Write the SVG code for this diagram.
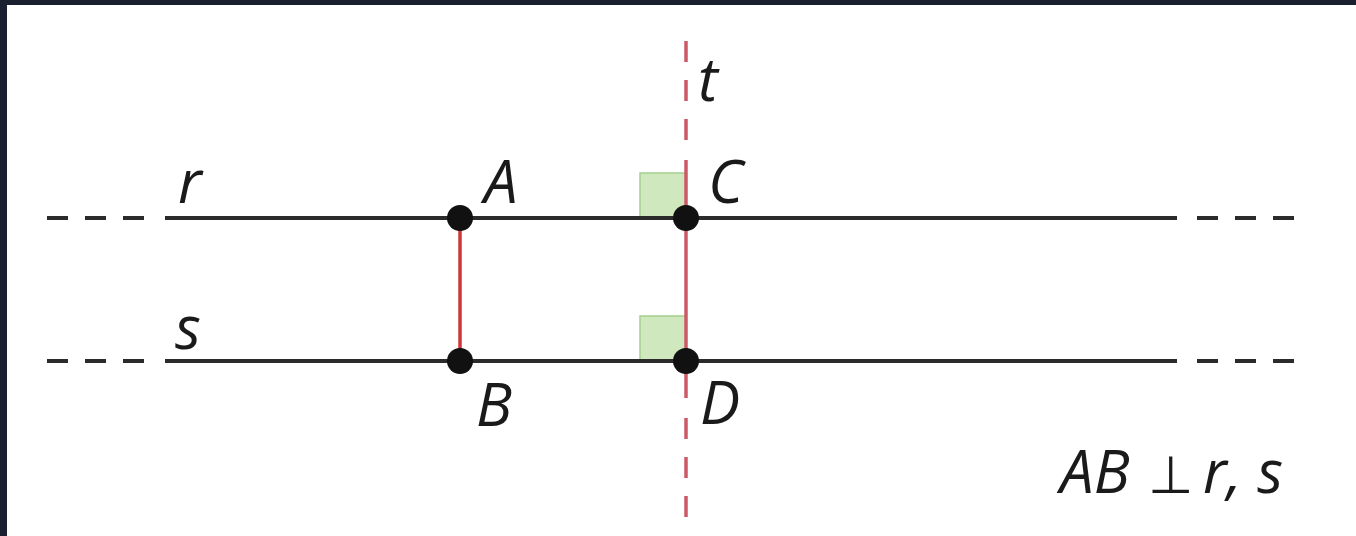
<svg xmlns="http://www.w3.org/2000/svg" width="1356" height="536" viewBox="0 0 1356 536">
<style>
.ln{stroke:#2b2b2b;stroke-width:4;fill:none}
.dl{stroke:#2b2b2b;stroke-width:4;fill:none;stroke-dasharray:21 17}
.t{stroke:#cc5a66;stroke-width:3.5;fill:none}
.td{stroke:#cc5a66;stroke-width:3.5;fill:none;stroke-dasharray:21 18}
.ab{stroke:#d0343c;stroke-width:3.5}
.sq{fill:#cfe8bd;stroke:#a5d08e;stroke-width:1.5}
.pt{fill:#111}
.lb{font-family:"Open Sans","Noto Sans",sans-serif;font-style:italic;font-size:60px;fill:#1a1a1a}
</style>
<rect x="0" y="0" width="1356" height="536" fill="#ffffff"/>
<rect x="0" y="0" width="1356" height="5" fill="#1b2030"/>
<rect x="0" y="0" width="7" height="536" fill="#1b2030"/>
<g id="angles">
<rect class="sq" x="640" y="173" width="46" height="45"/>
<rect class="sq" x="640" y="316" width="46" height="45"/>
</g>
<g id="connectors">
<line class="dl" x1="47" y1="218" x2="150" y2="218"/>
<line class="ln" x1="165" y1="218" x2="1177" y2="218"/>
<line class="dl" x1="1197" y1="218" x2="1300" y2="218"/>
<line class="dl" x1="47" y1="361" x2="150" y2="361"/>
<line class="ln" x1="165" y1="361" x2="1177" y2="361"/>
<line class="dl" x1="1197" y1="361" x2="1300" y2="361"/>
<line class="td" x1="686" y1="41" x2="686" y2="142"/>
<line class="t" x1="686" y1="160" x2="686" y2="398"/>
<line class="td" x1="686" y1="418" x2="686" y2="518"/>
<line class="ab" x1="460" y1="218" x2="460" y2="361"/>
</g>
<g id="A"><circle class="pt" cx="460" cy="218" r="13"/><text class="lb" x="484" y="203">A</text></g>
<g id="B"><circle class="pt" cx="460" cy="361" r="13"/><text class="lb" x="476" y="426">B</text></g>
<g id="C"><circle class="pt" cx="686" cy="218" r="13"/><text class="lb" x="708" y="203">C</text></g>
<g id="D"><circle class="pt" cx="686" cy="361" r="13"/><text class="lb" x="700" y="424">D</text></g>
<g id="labels">
<text class="lb" x="178" y="203">r</text>
<text class="lb" x="175" y="349">s</text>
<text class="lb" x="698" y="101">t</text>
<text class="lb" x="1060" y="493">AB</text>
<text x="1148" y="493" style="font-family:'DejaVu Sans',sans-serif;font-size:52px;fill:#1a1a1a">⊥</text>
<text class="lb" x="1203" y="493">r, s</text>
</g>
</svg>
